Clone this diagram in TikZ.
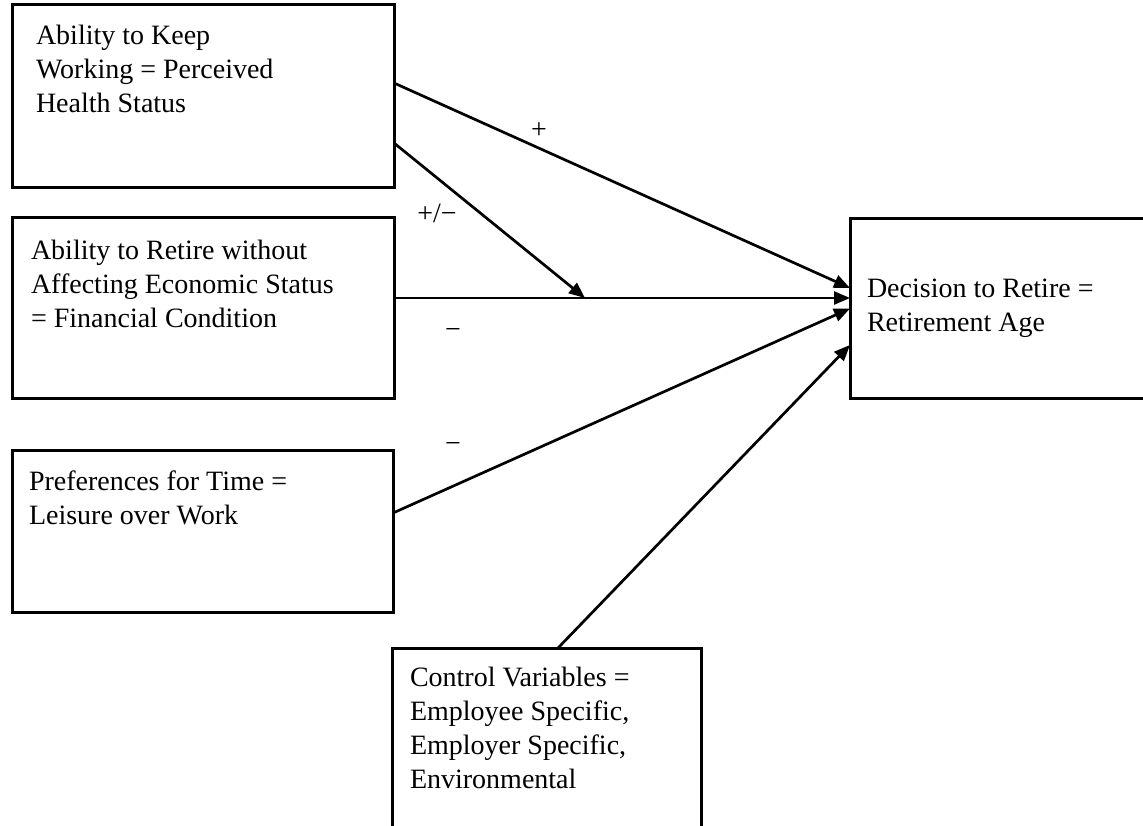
\documentclass[tikz,border=0pt]{standalone}
\usepackage{fontspec}
\setmainfont{Liberation Serif}
\usetikzlibrary{arrows.meta,calc}
\begin{document}
\begin{tikzpicture}[x=1pt,y=-1pt,
  box/.style={draw=black, line width=3pt, rectangle, inner sep=0pt, outer sep=0pt},
  txt/.style={inner sep=0pt, outer sep=0pt, anchor=base west, font=\fontsize{28}{34}\selectfont},
  sign/.style={inner sep=0pt, font=\fontsize{28}{34}\selectfont},
  conn/.style={line width=2.7pt, -{Triangle[length=16pt,width=13pt]}}
]
\useasboundingbox (0,0) rectangle (1143,826);
\clip (0,0) rectangle (1143,826);
\fill[white] (0,0) rectangle (1143,826);

% boxes
\node[box, minimum width=382pt, minimum height=183pt] (b1) at (203,96.5) {};
\node[box, minimum width=382pt, minimum height=180pt] (b2) at (203,308) {};
\node[box, minimum width=381pt, minimum height=162pt] (b3) at (202.5,531) {};
\node[box, minimum width=300pt, minimum height=179pt] (b4) at (1000,308.5) {};
\node[box, minimum width=309pt, minimum height=210pt] (b5) at (546.5,753) {};

% texts
\node[txt] (t1) at (36,45) {\parbox[t]{350pt}{Ability to Keep\\Working = Perceived\\Health Status}};
\node[txt] (t2) at (31,260) {\parbox[t]{360pt}{Ability to Retire without\\Affecting Economic Status\\= Financial Condition}};
\node[txt] (t3) at (29,490) {\parbox[t]{360pt}{Preferences for Time =\\Leisure over Work}};
\node[txt] (t4) at (867,298) {\parbox[t]{270pt}{Decision to Retire =\\Retirement Age}};
\node[txt] (t5) at (410,686) {\parbox[t]{280pt}{Control Variables =\\Employee Specific,\\Employer Specific,\\Environmental}};

% connectors
\coordinate (m) at (585,298);
\draw[conn] ([yshift=13.5pt]b1.east) -- ([yshift=20.5pt]b4.west);
\draw[conn] ([yshift=-46.5pt]b1.east) -- (m);
\draw[conn] ([yshift=10pt]b2.east) -- ([yshift=10.5pt]b4.west);
\draw[conn] ([yshift=18pt]b3.east) -- (b4.west);
\draw[conn] ([xshift=11.5pt]b5.north) -- ([yshift=-36.5pt]b4.west);

% signs
\node[sign] (l1) at (539,131) {+};
\node[sign] (l2) at (437,213) {+/−};
\node[sign] (l3) at (453,334) {−};
\node[sign] (l4) at (453,448) {−};
\end{tikzpicture}
\end{document}
